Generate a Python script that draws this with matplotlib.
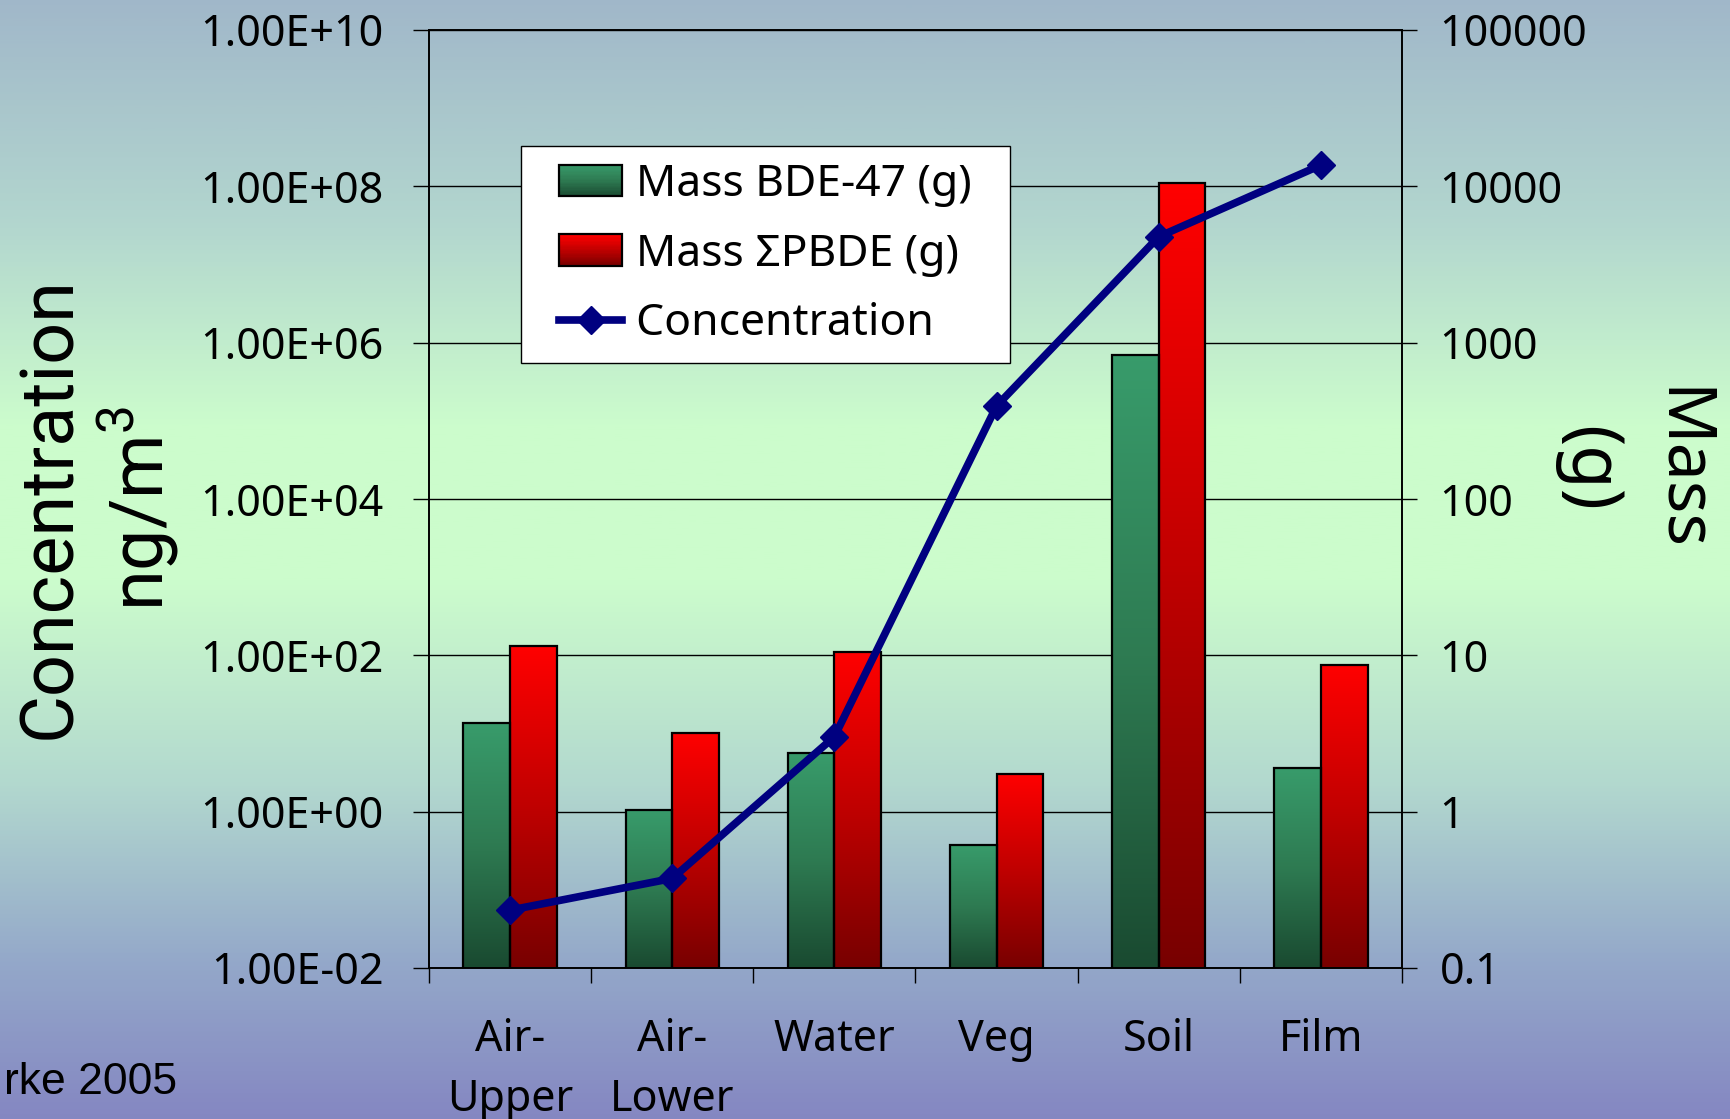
import numpy as np
import matplotlib
matplotlib.use("Agg")
import matplotlib.pyplot as plt
from matplotlib import transforms
from matplotlib.colors import LinearSegmentedColormap
from matplotlib.patches import Rectangle
from matplotlib.lines import Line2D
from matplotlib.legend_handler import HandlerBase
from matplotlib.ticker import FixedLocator, FixedFormatter, NullLocator, NullFormatter

plt.rcParams['font.family'] = ['Noto Sans', 'DejaVu Sans']
plt.rcParams['mathtext.fontset'] = 'custom'
plt.rcParams['mathtext.rm'] = 'Roboto'

# data
categories = ["Air-\nUpper", "Air-\nLower", "Water", "Veg", "Soil", "Film"]
mass_bde47 = [3.67, 1.03, 2.38, 0.615, 828, 1.89]        # g (right axis)
mass_pbde = [11.5, 3.20, 10.45, 1.74, 10550, 8.73]      # g (right axis)
concentration = [0.055, 0.14, 9.1, 1.55e5, 2.27e7, 1.87e8]  # ng/m3 (left axis)

left_ticks = [1e-2, 1e0, 1e2, 1e4, 1e6, 1e8, 1e10]
left_labels = ["1.00E-02", "1.00E+00", "1.00E+02", "1.00E+04",
               "1.00E+06", "1.00E+08", "1.00E+10"]
right_ticks = [0.1, 1, 10, 100, 1000, 10000, 100000]
right_labels = ["0.1", "1", "10", "100", "1000", "10000", "100000"]

W, H = 1731, 1119
fig = plt.figure(figsize=(W / 100, H / 100), dpi=100)

# slide background gradient
bg_cmap = LinearSegmentedColormap.from_list("bg", [
    (0.0, (0.63, 0.72, 0.79)),
    (0.2, (0.70, 0.84, 0.81)),
    (0.38, (0.80, 0.99, 0.80)),
    (0.52, (0.80, 0.99, 0.80)),
    (0.7, (0.70, 0.85, 0.81)),
    (0.86, (0.58, 0.66, 0.79)),
    (1.0, (0.52, 0.53, 0.76)),
])
bg = fig.add_axes([0, 0, 1, 1])
bg.set_zorder(-5)
bg.imshow(np.linspace(0, 1, 512).reshape(-1, 1), cmap=bg_cmap, aspect='auto',
          extent=(0, 1, 0, 1), origin='upper')
bg.axis('off')

green_cmap = LinearSegmentedColormap.from_list("g", [(0.10, 0.29, 0.19), (0.18, 0.48, 0.32), (0.22, 0.61, 0.42)])
red_cmap = LinearSegmentedColormap.from_list("r", [(0.47, 0.0, 0.0), (0.75, 0.0, 0.0), (1.0, 0.0, 0.0)])

ax = fig.add_axes([429 / W, 1 - 968 / H, (1402 - 429) / W, (968 - 30) / H])
ax2 = ax.twinx()
ax.set_zorder(ax2.get_zorder() + 1)
ax.patch.set_visible(False)
ax2.patch.set_facecolor('white')
ax.set_yscale('log')
ax2.set_yscale('log')

x = np.arange(len(categories))
w = 0.288
ax.set_xlim(-0.5, len(categories) - 0.5)
ax2.set_ylim(right_ticks[0], right_ticks[-1])
ax.set_ylim(left_ticks[0], left_ticks[-1])

bars_g = ax2.bar(x - w / 2, mass_bde47, w, facecolor='none', edgecolor='black', lw=1.6, zorder=3)
bars_r = ax2.bar(x + w / 2, mass_pbde, w, facecolor='none', edgecolor='black', lw=1.6, zorder=3)

# gradient fill for each bar
ax2.set_autoscale_on(False)
to_axes = ax2.transData + ax2.transAxes.inverted()
blend = transforms.blended_transform_factory(ax2.transData, ax2.transAxes)
grad = np.linspace(0, 1, 256).reshape(-1, 1)
for bars, cm in [(bars_g, green_cmap), (bars_r, red_cmap)]:
    for rect in bars:
        x0 = rect.get_x()
        x1 = x0 + rect.get_width()
        top = to_axes.transform((x0, rect.get_y() + rect.get_height()))[1]
        ax2.imshow(grad, extent=(x0, x1, 0, top), transform=blend, aspect='auto',
                   cmap=cm, origin='lower', zorder=2, interpolation='bilinear')
ax2.set_ylim(right_ticks[0], right_ticks[-1])
ax.set_xlim(-0.5, len(categories) - 0.5)

ax2.yaxis.grid(True, color='black', lw=1)
ax2.set_axisbelow(True)

ax.plot(x, concentration, color='#000080', lw=5.5, marker='D', ms=14,
        zorder=5, clip_on=False)

# ticks
ax.yaxis.set_major_locator(FixedLocator(left_ticks))
ax.yaxis.set_major_formatter(FixedFormatter(left_labels))
ax.yaxis.set_minor_locator(NullLocator())
ax.tick_params(axis='y', which='major', direction='out', length=11.5, width=1,
               labelsize=31, pad=21)
ax2.yaxis.set_major_locator(FixedLocator(right_ticks))
ax2.yaxis.set_major_formatter(FixedFormatter(right_labels))
ax2.yaxis.set_minor_locator(NullLocator())
ax2.tick_params(axis='y', which='major', direction='out', length=11, width=1,
                labelsize=31, pad=16)

ax.set_xticks(np.arange(len(categories) + 1) - 0.5)
ax.xaxis.set_major_formatter(NullFormatter())
ax.set_xticks(x, minor=True)
ax.set_xticklabels(categories, minor=True)
ax.tick_params(axis='x', which='major', direction='out', length=11, width=1)
ax.tick_params(axis='x', which='minor', length=0, labelsize=31, pad=36)
for lab in ax.get_xticklabels(minor=True):
    lab.set_linespacing(1.48)
    lab.set_verticalalignment('top')

for a in (ax, ax2):
    for s in a.spines.values():
        s.set_color('black')
        s.set_linewidth(1.2)

# axis titles
fig.text(70 / W, 1 - 508 / H, "Concentration", rotation=90, rotation_mode='anchor',
         ha='center', va='baseline', fontsize=53, family='Roboto')
fig.text(163 / W, 1 - 508 / H, "ng/m$^3$", rotation=90, rotation_mode='anchor',
         ha='center', va='baseline', fontsize=53, family='Roboto')
fig.text(1662 / W, 1 - 470 / H, "Mass", rotation=-90, rotation_mode='anchor',
         ha='center', va='baseline', fontsize=49)
fig.text(1569 / W, 1 - 469 / H, "(g)", rotation=-90, rotation_mode='anchor',
         ha='center', va='baseline', fontsize=51)
fig.text(177 / W, 1 - 1094 / H, "rke 2005", ha='right', va='baseline',
         fontsize=32, family='Liberation Sans')

LEG_FS = 32
VIS = 45.4  # visible handle width in points


class GradientHandler(HandlerBase):
    def __init__(self, cmap):
        super().__init__()
        self.cmap = cmap

    def create_artists(self, legend, orig_handle, xdescent, ydescent, width,
                       height, fontsize, trans):
        n = 24
        x0 = -xdescent + width - VIS
        arts = []
        for i in range(n):
            arts.append(Rectangle((x0, -ydescent + height * i / n), VIS,
                                  height / n * 1.05, facecolor=self.cmap((i + 0.5) / n),
                                  edgecolor='none', transform=trans))
        arts.append(Rectangle((x0, -ydescent), VIS, height, facecolor='none',
                              edgecolor='black', lw=1.6, transform=trans))
        return arts


class LineHandler(HandlerBase):
    def create_artists(self, legend, orig_handle, xdescent, ydescent, width,
                       height, fontsize, trans):
        x0 = -xdescent + width - VIS
        y = -ydescent + height / 2
        ln = Line2D([x0, x0 + VIS], [y, y], color=orig_handle.get_color(),
                    lw=orig_handle.get_linewidth(), transform=trans)
        mk = Line2D([x0 + VIS / 2], [y], color=orig_handle.get_color(), marker='D',
                    ms=orig_handle.get_markersize(), ls='none', transform=trans)
        return [ln, mk]


h_g = Rectangle((0, 0), 1, 1)
h_r = Rectangle((0, 0), 1, 1)
h_c = Line2D([], [], color='#000080', lw=5.5, marker='D', ms=14)
labels = ["Mass BDE-47 (g)\u2002", "Mass \u03a3PBDE (g)\u2002", "Concentration\u2002"]
leg = ax.legend([h_g, h_r, h_c], labels,
                handler_map={h_g: GradientHandler(green_cmap), h_r: GradientHandler(red_cmap),
                             h_c: LineHandler()},
                loc='upper left', bbox_to_anchor=(521 / W, 1 - 146 / H),
                bbox_transform=fig.transFigure, fontsize=LEG_FS, frameon=True,
                fancybox=False, edgecolor='black', framealpha=1, handlelength=1.9,
                handleheight=0.72, handletextpad=0.3, borderpad=0.38,
                labelspacing=0.58, borderaxespad=0)
leg.get_frame().set_linewidth(1)
leg.set_zorder(10)

fig.savefig("out.png", dpi=100)
